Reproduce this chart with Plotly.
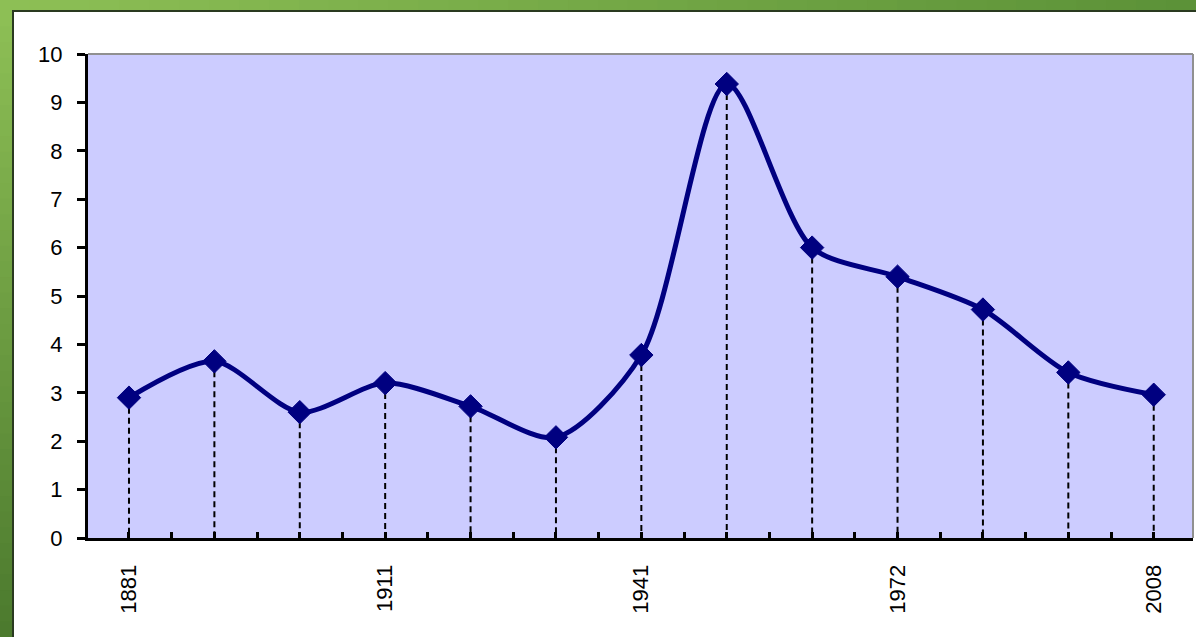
import plotly.graph_objects as go

# ---- data ----
tick_labels = ["1881", "1911", "1941", "1972", "2008"]
tick_positions = [0, 3, 6, 9, 12]
values = [2.9, 3.65, 2.6, 3.2, 2.72, 2.08, 3.78, 9.38, 6.0, 5.4, 4.72, 3.42, 2.96]
idx = list(range(len(values)))

# ---- layout geometry ----
W, H = 1196, 637
L, R, T, B = 88, 3, 54, 99
PW, PH = W - L - R, H - T - B

def px_x(p):
    return (p - L) / PW

def px_y(p):
    return 1 - (p - T) / PH

NAVY = "#000080"

fig = go.Figure()

# dashed drop lines from each point to zero
dx, dy = [], []
for i, v in zip(idx, values):
    dx += [i, i, None]
    dy += [v, 0, None]
fig.add_trace(go.Scatter(x=dx, y=dy, mode="lines",
                         line=dict(color="black", width=2, dash="6px,4px"),
                         hoverinfo="skip", showlegend=False))

fig.add_trace(go.Scatter(x=idx, y=values, mode="lines+markers",
                         line=dict(color=NAVY, width=5, shape="spline", smoothing=0.8),
                         marker=dict(symbol="diamond", size=18, color=NAVY,
                                     line=dict(color=NAVY, width=1)),
                         showlegend=False))

shapes = []
# green frame: gradient simulated with slices
def lerp(c1, c2, t):
    return "rgb(%d,%d,%d)" % tuple(round(a + (b - a) * t) for a, b in zip(c1, c2))

top_l, top_r, bot_l = (141, 191, 85), (92, 146, 56), (76, 122, 46)
N = 40
for k in range(N):
    x0p = W * k / N
    x1p = W * (k + 1) / N + 1
    shapes.append(dict(type="rect", xref="paper", yref="paper",
                       x0=px_x(x0p), x1=px_x(x1p), y0=px_y(0), y1=px_y(11),
                       fillcolor=lerp(top_l, top_r, k / (N - 1)), line=dict(width=0), layer="above"))
for k in range(N):
    y0p = 11 + (H - 11) * k / N
    y1p = 11 + (H - 11) * (k + 1) / N + 1
    shapes.append(dict(type="rect", xref="paper", yref="paper",
                       x0=px_x(0), x1=px_x(12), y0=px_y(y0p), y1=px_y(y1p),
                       fillcolor=lerp(top_l, bot_l, k / (N - 1)), line=dict(width=0), layer="above"))
# dark edge of the frame
shapes.append(dict(type="line", xref="paper", yref="paper",
                   x0=px_x(12), x1=px_x(W + 2), y0=px_y(11), y1=px_y(11),
                   line=dict(color="#2a3a20", width=2), layer="above"))
shapes.append(dict(type="line", xref="paper", yref="paper",
                   x0=px_x(13), x1=px_x(13), y0=px_y(11), y1=px_y(H + 2),
                   line=dict(color="#2a3a20", width=2), layer="above"))
# thin grey top/right border of plot area
shapes.append(dict(type="line", xref="paper", yref="paper", x0=0, x1=1, y0=1, y1=1,
                   line=dict(color="#909090", width=2), layer="below"))
shapes.append(dict(type="line", xref="paper", yref="paper", x0=1, x1=1, y0=0, y1=1,
                   line=dict(color="#909090", width=2), layer="below"))

font = dict(family="Liberation Sans, Arial, sans-serif", size=22, color="black")

fig.update_layout(
    width=W, height=H,
    margin=dict(l=L, r=R, t=T, b=B, pad=0),
    paper_bgcolor="white",
    plot_bgcolor="#CCCCFF",
    shapes=shapes,
    showlegend=False,
    xaxis=dict(range=[-0.48, 12.46], showgrid=False, zeroline=False,
               tickmode="array", tickvals=idx,
               ticktext=[tick_labels[tick_positions.index(i)] if i in tick_positions else "" for i in idx],
               tickangle=-90, ticks="inside", ticklen=6, tickwidth=3, tickcolor="black",
               minor=dict(ticks="inside", ticklen=6, tickwidth=3, tickcolor="black",
                          tickmode="array", tickvals=[i + 0.5 for i in idx[:-1]]),
               showline=True, linecolor="black", linewidth=3,
               tickfont=font, ticklabelstandoff=15, fixedrange=True),
    yaxis=dict(range=[0, 10], dtick=1, showgrid=False, zeroline=False,
               ticks="outside", ticklen=8, tickwidth=3, tickcolor="black",
               showline=True, linecolor="black", linewidth=3,
               tickfont=font, ticklabelstandoff=10, fixedrange=True),
)

fig.write_html("out.html", config={"displayModeBar": False},
               post_script="document.body.style.margin='0px';document.body.style.overflow='hidden';")
